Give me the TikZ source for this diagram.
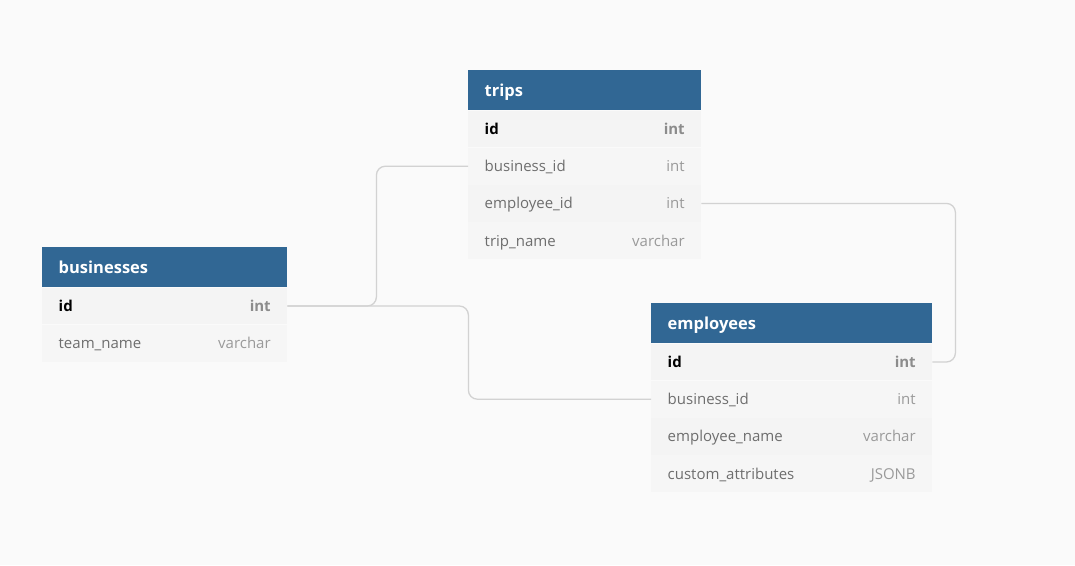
\documentclass[tikz,border=0pt]{standalone}
\usepackage{fontspec}
\setmainfont{Open Sans}

\definecolor{bgc}{HTML}{FAFAFA}
\definecolor{hdblue}{HTML}{316794}
\definecolor{rowa}{HTML}{F4F4F4}
\definecolor{rowb}{HTML}{F6F6F6}
\definecolor{fld}{HTML}{6E6E6E}
\definecolor{typ}{HTML}{9A9A9A}
\definecolor{pktyp}{HTML}{8C8C8C}
\definecolor{relc}{HTML}{D2D2D2}

\begin{document}
\begin{tikzpicture}[x=1pt,y=-1pt,
	hd/.style={fill=hdblue,text=white,font=\fontsize{16.5}{19}\selectfont\bfseries,anchor=north west,
		minimum height=40pt,inner xsep=16.5pt,inner ysep=0pt,align=left,text height=13.5pt,text depth=1.5pt},
	row/.style={fill=rowa,text=fld,font=\fontsize{15}{18}\selectfont,anchor=north west,
		minimum height=36.8pt,inner xsep=16.5pt,inner ysep=0pt,align=left,text height=12.5pt,text depth=1.5pt},
	alt/.style={row,fill=rowb},
	rel/.style={draw=relc,line width=1.3pt,rounded corners=9pt}]

	\useasboundingbox[fill=bgc] (0,0) rectangle (1075,565);

	% trips
	\node[hd,text width=200pt] (trips) at (468,70) {trips};
	\node[row,text width=200pt] (t-id) at (trips.south west) {\textbf{\color{black}id}\hfill\textbf{\color{pktyp}int}};
	\node[alt,text width=200pt] (t-bid) at (t-id.south west) {business\_id\hfill\textcolor{typ}{int}};
	\node[row,text width=200pt] (t-eid) at (t-bid.south west) {employee\_id\hfill\textcolor{typ}{int}};
	\node[alt,text width=200pt] (t-name) at (t-eid.south west) {trip\_name\hfill\textcolor{typ}{varchar}};

	% businesses
	\node[hd,text width=212pt] (biz) at (42,247) {businesses};
	\node[row,text width=212pt] (b-id) at (biz.south west) {\textbf{\color{black}id}\hfill\textbf{\color{pktyp}int}};
	\node[alt,text width=212pt] (b-team) at (b-id.south west) {team\_name\hfill\textcolor{typ}{varchar}};

	% employees
	\node[hd,text width=248pt] (emp) at (651,303) {employees};
	\node[row,text width=248pt] (e-id) at (emp.south west) {\textbf{\color{black}id}\hfill\textbf{\color{pktyp}int}};
	\node[alt,text width=248pt] (e-bid) at (e-id.south west) {business\_id\hfill\textcolor{typ}{int}};
	\node[row,text width=248pt] (e-name) at (e-bid.south west) {employee\_name\hfill\textcolor{typ}{varchar}};
	\node[alt,text width=248pt] (e-attr) at (e-name.south west) {custom\_attributes\hfill\textcolor{typ}{JSONB}};

	% relations
	\draw[rel] (b-id.east) -- ++(89,0) |- (t-bid.west);
	\draw[rel] (b-id.east) -- ++(181,0) |- (e-bid.west);
	\draw[rel] (t-eid.east) -- ++(254,0) |- (e-id.east);

\end{tikzpicture}
\end{document}
